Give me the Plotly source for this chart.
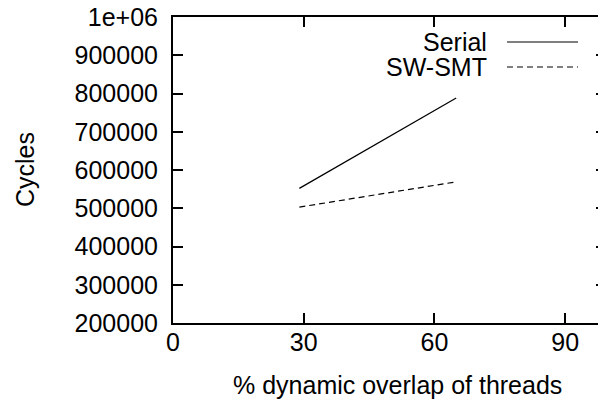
import plotly.graph_objects as go

overlap = [29, 65]
serial = [552000, 788000]
sw_smt = [503000, 569000]
series_names = ["Serial", "SW-SMT"]

x_ticks = [0, 30, 60, 90]
y_ticks = [200000, 300000, 400000, 500000, 600000, 700000, 800000, 900000, 1000000]
y_tick_text = ["200000", "300000", "400000", "500000", "600000", "700000", "800000", "900000", "1e+06"]

FONT = "Liberation Sans, Arial, Helvetica, sans-serif"
OFF = 8  # default page body margin
W, H = 598, 396
ML, MR, MT, MB = 165, 0, 9, 81

fig = go.Figure()
fig.add_trace(go.Scatter(x=overlap, y=serial, mode="lines", name=series_names[0],
                         line=dict(color="black", width=1.2), showlegend=False))
fig.add_trace(go.Scatter(x=overlap, y=sw_smt, mode="lines", name=series_names[1],
                         line=dict(color="black", width=1.2, dash="6px,4px"), showlegend=False))

axis_common = dict(showgrid=False, zeroline=False, showline=True, linecolor="black",
                   linewidth=2, mirror="allticks", ticks="inside", ticklen=10,
                   tickwidth=1.5, tickcolor="black", automargin=False,
                   ticklabeloverflow="allow",
                   tickfont=dict(family=FONT, size=25, color="black"))

pw = W - ML - MR
ph = H - MT - MB
fig.update_xaxes(range=[0, 100 * pw / 435.7], tickvals=x_ticks, ticklabelstandoff=-4,
                 **axis_common)
fig.update_yaxes(range=[200000, 1000000], tickvals=y_ticks, ticktext=y_tick_text,
                 ticklabelstandoff=8, **axis_common)

# window pixel -> paper coordinates
def px(xp):
    return (xp - OFF - ML) / pw
def py(yp):
    return 1 - (yp - OFF - MT) / ph

title_font = dict(family=FONT, size=25, color="black")
fig.add_annotation(x=px(397), y=py(385), xref="paper", yref="paper",
                   text="% dynamic overlap of threads", showarrow=False,
                   xanchor="center", yanchor="middle", font=title_font)
fig.add_annotation(x=px(25), y=py(170), xref="paper", yref="paper",
                   text="Cycles", showarrow=False, textangle=-90,
                   xanchor="center", yanchor="middle", font=title_font)

# legend drawn gnuplot-style: text right-aligned, sample line to its right
legend_rows = [(series_names[0], 42, "solid"), (series_names[1], 67, "dash")]
for name, yrow, dash in legend_rows:
    fig.add_annotation(x=px(489), y=py(yrow), xref="paper", yref="paper", text=name,
                       showarrow=False, xanchor="right", yanchor="middle",
                       font=title_font)
    fig.add_shape(type="line", xref="paper", yref="paper", x0=px(507), x1=px(578),
                  y0=py(yrow), y1=py(yrow),
                  line=dict(color="black", width=1.2, dash="6px,4px" if dash == "dash" else "solid"))

fig.update_layout(width=W, height=H, margin=dict(l=ML, r=MR, t=MT, b=MB, autoexpand=False),
                  paper_bgcolor="white", plot_bgcolor="white", showlegend=False)

fig.write_html("out.html")
